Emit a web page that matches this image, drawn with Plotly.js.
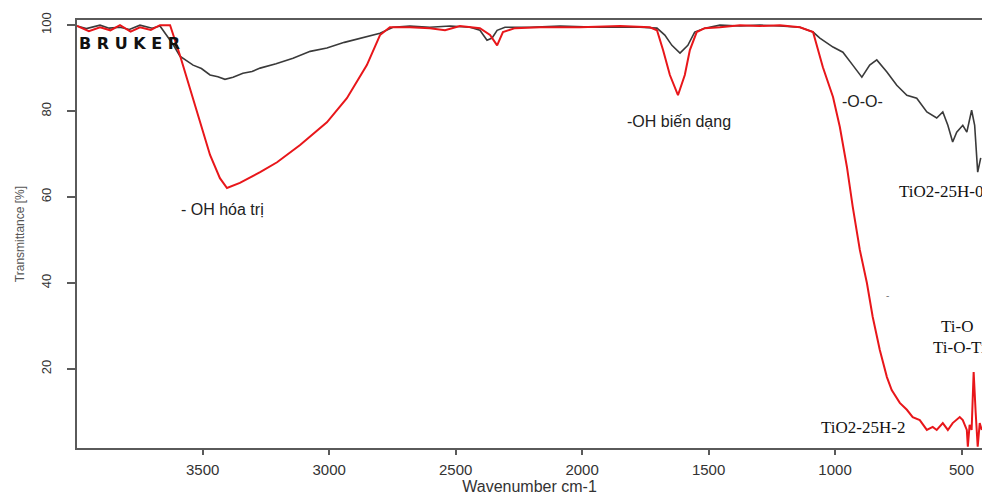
<!DOCTYPE html>
<html>
<head>
<meta charset="utf-8">
<script src="https://cdn.plot.ly/plotly-3.0.1.min.js"></script>
<style>html,body{margin:0;padding:0;background:#fff;overflow:hidden}</style>
</head>
<body>
<div id="chart" style="width:982px;height:497px"></div>
<script>
// TiO2-25H-0 (black)
const wn0 = [3997,3960,3906,3870,3827,3790,3748,3700,3669,3617,3590,3538,3505,3471,3440,3412,3380,3341,3305,3273,3210,3143,3075,3009,2940,2878,2799,2748,2681,2602,2522,2443,2404,2376,2356,2336,2305,2206,2087,1929,1771,1704,1673,1645,1613,1582,1555,1515,1455,1376,1297,1218,1139,1087,1060,1008,969,930,894,863,835,795,756,716,677,637,598,574,554,535,519,495,479,460,448,436,424];
const t0  = [99.8,99.2,100,99.3,99.5,99.0,100,99.3,99.8,95.5,92.8,90.7,89.9,88.4,88.0,87.4,87.9,88.8,89.2,90.0,91.0,92.3,93.9,94.7,96.0,97.0,98.1,99.5,99.8,99.5,99.8,99.5,98.8,96.5,97.0,98.8,99.5,99.5,99.8,99.5,99.5,99.3,97.7,95.3,93.5,95.3,98.4,99.3,100,99.8,100,99.8,99.5,98.4,97.0,94.9,93.7,90.7,87.9,90.7,91.9,89.1,86.0,83.7,83.0,79.8,78.4,79.8,76.7,72.8,75.1,76.7,75.1,80.2,76.7,65.8,69.1];

// TiO2-25H-2 (red)
const wn2 = [3997,3950,3906,3865,3827,3785,3748,3705,3669,3629,3590,3538,3471,3432,3404,3353,3273,3206,3115,3009,2930,2851,2799,2760,2681,2602,2542,2483,2404,2364,2336,2313,2265,2166,2008,1850,1732,1704,1680,1653,1621,1594,1574,1547,1515,1455,1376,1297,1218,1139,1087,1048,1008,981,953,930,902,874,851,823,795,776,744,716,693,665,637,614,598,574,554,535,507,495,479,475,468,460,452,444,436,428,420];
const t2  = [99.8,98.6,99.5,98.8,100,98.5,99.5,98.9,100,100,93.0,83.0,69.8,64.4,62.1,63.3,65.8,68.1,72.1,77.4,83.0,90.7,97.7,99.5,99.5,99.3,98.8,99.8,99.3,97.7,95.3,98.4,99.3,99.5,99.5,99.8,99.5,98.8,94.2,88.4,83.7,88.4,94.2,98.4,99.3,99.5,100,99.8,100,99.5,98.4,90.2,83.3,76.3,67.0,57.7,47.7,40.0,32.1,24.4,18.1,15.1,12.1,10.5,8.8,8.1,5.8,6.5,5.8,7.4,5.8,7.4,8.8,8.1,5.8,1.9,7.0,5.8,19.3,9.8,1.9,7.4,5.8];

const xTicks = [3500,3000,2500,2000,1500,1000,500];
const yTicks = [20,40,60,80,100];

const traces = [
  {x: wn0, y: t0, type:'scatter', mode:'lines', name:'TiO2-25H-0',
   line:{color:'#3a3a3a', width:1.6}},
  {x: wn2, y: t2, type:'scatter', mode:'lines', name:'TiO2-25H-2',
   line:{color:'#e8161a', width:2}}
];

const sans = 'Liberation Sans, Arial, sans-serif';
const serif = 'Liberation Serif, Times New Roman, serif';

const layout = {
  width: 982, height: 497,
  margin: {l:77, r:0, t:20, b:49},
  paper_bgcolor:'#fff', plot_bgcolor:'#fff',
  showlegend:false,
  xaxis: {
    range:[3997,419], tickvals:xTicks, ticktext:xTicks.map(String),
    showgrid:false, zeroline:false, showline:true, mirror:true,
    linecolor:'#5a5a5a', linewidth:2,
    ticks:'outside', ticklen:5, tickwidth:2, tickcolor:'#5a5a5a',
    ticklabelstandoff:2,
    tickfont:{family:sans, size:15, color:'#333'},
    title:{text:'Wavenumber cm-1', font:{family:sans, size:16, color:'#333'}, standoff:4}
  },
  yaxis: {
    range:[1.6,101.2], tickvals:yTicks, ticktext:yTicks.map(String),
    showgrid:false, zeroline:false, showline:true, mirror:false,
    linecolor:'#5a5a5a', linewidth:2,
    ticks:'outside', ticklen:8, tickwidth:2, tickcolor:'#5a5a5a',
    tickangle:-90, ticklabelstandoff:11,
    tickfont:{family:sans, size:13, color:'#333'},
    title:{text:'Transmittance [%]', font:{family:sans, size:12, color:'#555'}, standoff:12}
  },
  annotations: [
    {x:3420, y:57.0, xref:'x', yref:'y', text:'- OH hóa trị', showarrow:false,
     font:{family:sans, size:16, color:'#222'}},
    {x:1616, y:77.5, xref:'x', yref:'y', text:'-OH biến dạng', showarrow:false,
     font:{family:sans, size:16, color:'#222'}},
    {x:892, y:82.3, xref:'x', yref:'y', text:'-O-O-', showarrow:false,
     font:{family:sans, size:16, color:'#222'}},
    {x:757, y:61.2, xref:'x', yref:'y', text:'TiO2-25H-0', showarrow:false, xanchor:'left',
     font:{family:serif, size:17, color:'#111'}},
    {x:518, y:29.8, xref:'x', yref:'y', text:'Ti-O', showarrow:false,
     font:{family:serif, size:17, color:'#111'}},
    {x:621, y:25.0, xref:'x', yref:'y', text:'Ti-O-Ti', showarrow:false, xanchor:'left',
     font:{family:serif, size:17, color:'#111'}},
    {x:1062, y:6.3, xref:'x', yref:'y', text:'TiO2-25H-2', showarrow:false, xanchor:'left',
     font:{family:serif, size:17, color:'#111'}},
    {x:3997, y:95.8, xref:'x', yref:'y', text:'<b>B R U K E R</b>', showarrow:false, xanchor:'left',
     font:{family:'DejaVu Sans, sans-serif', size:16, color:'#111'}},
    {x:793, y:37.2, xref:'x', yref:'y', text:'-', showarrow:false,
     font:{family:sans, size:10, color:'#777'}}
  ]
};

Plotly.newPlot('chart', traces, layout, {displayModeBar:false, staticPlot:true});
</script>
</body>
</html>
